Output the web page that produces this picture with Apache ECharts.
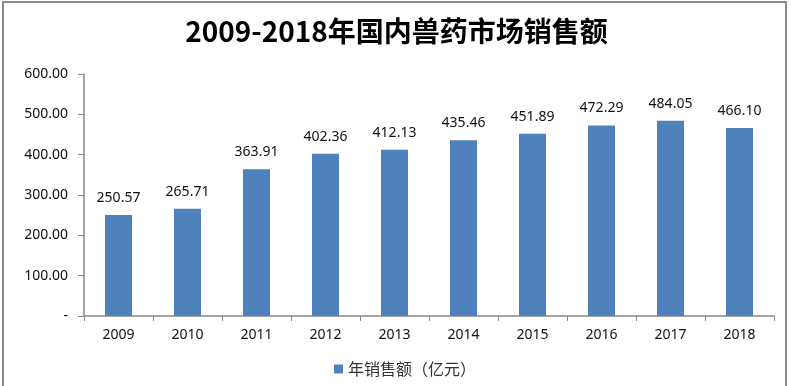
<!DOCTYPE html>
<html><head><meta charset="utf-8">
<script src="https://cdn.jsdelivr.net/npm/echarts@6/dist/echarts.min.js"></script>
<style>html,body{margin:0;padding:0;background:#fff}#c{width:793px;height:386px}</style>
</head><body><div id="c"></div>
<script>
const categories = ['2009','2010','2011','2012','2013','2014','2015','2016','2017','2018'];
const salesValues = [250.57,265.71,363.91,402.36,412.13,435.46,451.89,472.29,484.05,466.10];
const seriesName = '年销售额（亿元）';
const titleText = '2009-2018年国内兽药市场销售额';
const yTicks = [0,100,200,300,400,500,600];

const chart = echarts.init(document.getElementById('c'));
chart.setOption({
  animation:false,
  textStyle:{fontFamily:'"Noto Sans","Noto Sans CJK SC",sans-serif'},
  title:{text:titleText,left:'center',top:12,textStyle:{fontSize:28,fontWeight:'bold',color:'#000',fontFamily:'"Noto Sans CJK SC",sans-serif'}},
  graphic:[{type:'rect',shape:{x:3,y:2,width:783,height:390},style:{fill:'none',stroke:'#8a8a8a',lineWidth:2},silent:true}],
  legend:{bottom:4,left:329,itemWidth:9,itemHeight:9,icon:'rect',textStyle:{fontSize:16,color:'#333',fontFamily:'"Noto Sans CJK SC",sans-serif'},data:[seriesName]},
  grid:{left:84,right:19,top:74,bottom:70},
  xAxis:{type:'category',data:categories,axisLine:{lineStyle:{color:'#888',width:1.5}},axisTick:{show:true,length:5,lineStyle:{color:'#888'}},axisLabel:{color:'#111',fontSize:14,margin:12}},
  yAxis:{type:'value',min:yTicks[0],max:yTicks[yTicks.length-1],interval:100,splitLine:{show:false},
    axisLine:{show:true,lineStyle:{color:'#888',width:1.5}},axisTick:{show:true,length:6,inside:false,lineStyle:{color:'#888'}},
    axisLabel:{color:'#111',fontSize:14,margin:16,formatter:v=>v===0?'-':v.toFixed(2)}},
  series:[{name:seriesName,type:'bar',data:salesValues,barWidth:27,itemStyle:{color:'#4F81BD'},
    label:{show:true,position:'top',distance:10,fontSize:14,color:'#111',formatter:p=>p.value.toFixed(2)}}]
});
</script></body></html>
